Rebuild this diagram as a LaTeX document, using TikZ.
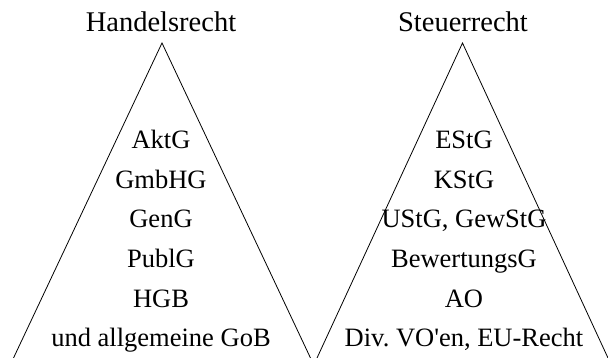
\documentclass[tikz,border=0pt]{standalone}
\usepackage{fontspec}
\setmainfont{Liberation Serif}[Ligatures=TeXOff]
\frenchspacing
\begin{document}
\begin{tikzpicture}[x=1pt,y=-1pt,
  title/.style={anchor=base,inner sep=0pt,font=\fontsize{28.5}{32}\selectfont},
  item/.style={anchor=base,inner sep=0pt,font=\fontsize{26.5}{30}\selectfont},
  edge/.style={draw=black,line width=0.8pt}]
\useasboundingbox (0,0) rectangle (608,358);
% left pyramid
\coordinate (LA) at (162,43);
\coordinate (LL) at (13.5,358);
\coordinate (LR) at (310.5,358);
\draw[edge] (LL) -- (LA) -- (LR);
% right pyramid
\coordinate (RA) at (462.5,43);
\coordinate (RL) at (317,358);
\coordinate (RR) at (608,358);
\draw[edge] (RL) -- (RA) -- (RR);
% titles
\node[title] (th) at (161,32) {Handelsrecht};
\node[title] (ts) at (463,32) {Steuerrecht};
% left items
\node[item] (l1) at (161,149) {AktG};
\node[item] (l2) at (161,188.5) {GmbHG};
\node[item] (l3) at (161,228) {GenG};
\node[item] (l4) at (161,267.5) {PublG};
\node[item] (l5) at (161,307) {HGB};
\node[item] (l6) at (161,346) {und allgemeine GoB};
% right items
\node[item] (r1) at (464,149) {EStG};
\node[item] (r2) at (464,188.5) {KStG};
\node[item] (r3) at (464,228) {UStG, GewStG};
\node[item] (r4) at (464,267.5) {BewertungsG};
\node[item] (r5) at (464,307) {AO};
\node[item] (r6) at (464,346) {Div. VO'en, EU-Recht};
\end{tikzpicture}
\end{document}
